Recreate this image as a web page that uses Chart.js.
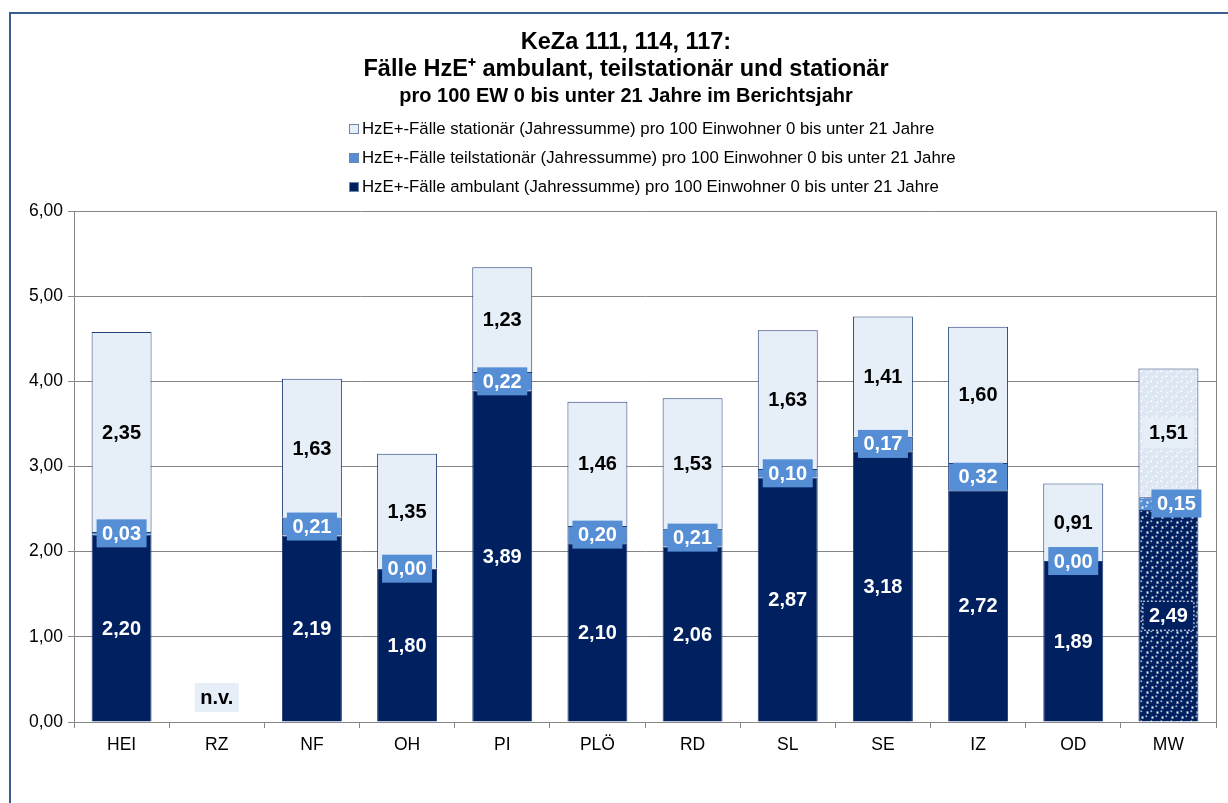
<!DOCTYPE html>
<html>
<head>
<meta charset="utf-8">
<style>
  body { margin: 0; background: #fff; }
</style>
</head>
<body>
<canvas id="myChart" width="1228" height="803"></canvas>
<script src="https://cdn.jsdelivr.net/npm/chart.js"></script>
<script>
const categories = ['HEI', 'RZ', 'NF', 'OH', 'PI', 'PLÖ', 'RD', 'SL', 'SE', 'IZ', 'OD', 'MW'];
const ambulant = [2.20, null, 2.19, 1.80, 3.89, 2.10, 2.06, 2.87, 3.18, 2.72, 1.89, 2.49];
const teilstationaer = [0.03, null, 0.21, 0.00, 0.22, 0.20, 0.21, 0.10, 0.17, 0.32, 0.00, 0.15];
const stationaer = [2.35, null, 1.63, 1.35, 1.23, 1.46, 1.53, 1.63, 1.41, 1.60, 0.91, 1.51];
const yTicks = [0, 1, 2, 3, 4, 5, 6];

const titleLines = [
    'KeZa 111, 114, 117:',
    'Fälle HzE⁺ ambulant, teilstationär und stationär',
    'pro 100 EW 0 bis unter 21 Jahre im Berichtsjahr'
];
const legendLabels = [
    'HzE+-Fälle ambulant (Jahressumme) pro 100 Einwohner 0 bis unter 21 Jahre',
    'HzE+-Fälle teilstationär (Jahressumme) pro 100 Einwohner 0 bis unter 21 Jahre',
    'HzE+-Fälle stationär (Jahressumme) pro 100 Einwohner 0 bis unter 21 Jahre'
];

const NAVY = '#002060';
const MID = '#558ED5';
const LIGHT = '#E6EEF8';
const EDGE = '#24407A';
const FONT = '"Liberation Sans", Arial, sans-serif';

// Kugel-Muster fuer den Mittelwert (MW)
function makePattern(bg, ball, shine) {
    const c = document.createElement('canvas');
    c.width = 10; c.height = 10;
    const g = c.getContext('2d');
    g.fillStyle = bg;
    g.fillRect(0, 0, 10, 10);
    const pts = [[2.5, 2.5], [7.5, 7.5], [-2.5, 7.5], [12.5, 7.5], [7.5, -2.5], [7.5, 12.5], [2.5, 12.5], [12.5, 2.5]];
    pts.forEach(([x, y]) => {
        g.fillStyle = ball;
        g.beginPath(); g.arc(x, y, 4.1, 0, Math.PI * 2); g.fill();
        g.fillStyle = shine;
        g.beginPath(); g.arc(x - 1.2, y - 1.2, 1, 0, Math.PI * 2); g.fill();
    });
    return g.createPattern(c, 'repeat');
}

const ctx0 = document.getElementById('myChart').getContext('2d');
const patNavy = makePattern('#ffffff', NAVY, '#9fb3d6');
const patMid = makePattern('#ffffff', MID, '#dbe6f5');
const patLight = makePattern('#f4f7fc', '#dde6f3', '#ffffff');

function colors(base, pat) {
    return categories.map(c => c === 'MW' ? pat : base);
}

function fmt(v) {
    return v.toFixed(2).replace('.', ',');
}

const decor = {
    id: 'decor',
    beforeDraw(chart) {
        const c = chart.ctx;
        c.save();
        c.fillStyle = '#fff';
        c.fillRect(0, 0, chart.width, chart.height);
        // Rahmen
        c.strokeStyle = '#3A5F8F';
        c.lineWidth = 2;
        c.beginPath();
        c.moveTo(10, chart.height);
        c.lineTo(10, 13);
        c.lineTo(chart.width, 13);
        c.stroke();
        // Titel
        c.fillStyle = '#000';
        c.textAlign = 'center';
        c.textBaseline = 'middle';
        c.font = 'bold 23.5px ' + FONT;
        c.fillText(titleLines[0], 626, 43);
        c.fillText(titleLines[1], 626, 70);
        c.font = 'bold 20px ' + FONT;
        c.fillText(titleLines[2], 626, 96);
        // Legende (umgekehrte Reihenfolge)
        const fills = [NAVY, MID, LIGHT];
        c.font = '16.8px ' + FONT;
        c.textAlign = 'left';
        [2, 1, 0].forEach((d, row) => {
            const y = 129 + row * 29;
            c.fillStyle = fills[d];
            c.fillRect(349, y - 5, 10, 10);
            c.strokeStyle = '#6f86a8';
            c.lineWidth = 1;
            c.strokeRect(349.5, y - 4.5, 9, 9);
            c.fillStyle = '#000';
            c.fillText(legendLabels[d], 362, y);
        });
        c.restore();
    },
    afterDatasetsDraw(chart) {
        const c = chart.ctx;
        const area = chart.chartArea;
        c.save();
        // rechte Begrenzung
        c.strokeStyle = '#868686';
        c.lineWidth = 1;
        c.beginPath();
        c.moveTo(Math.round(area.right) + 0.5, area.top);
        c.lineTo(Math.round(area.right) + 0.5, area.bottom);
        c.stroke();

        c.textAlign = 'center';
        c.textBaseline = 'middle';
        c.font = 'bold 20px ' + FONT;
        chart.data.datasets.forEach((ds, di) => {
            const meta = chart.getDatasetMeta(di);
            meta.data.forEach((el, i) => {
                const v = ds.data[i];
                if (v === null) return;
                const x = el.x;
                const y = (el.y + el.base) / 2;
                const isMW = categories[i] === 'MW';
                if (di === 1) {
                    const bx = isMW ? x + 8 : x;
                    c.fillStyle = MID;
                    c.fillRect(bx - 25, y - 14, 50, 28);
                    c.fillStyle = '#fff';
                    c.fillText(fmt(v), bx, y + 1);
                    return;
                }
                if (di === 0) {
                    if (isMW) {
                        c.fillStyle = NAVY;
                        c.fillRect(x - 26, y - 15, 52, 30);
                        c.setLineDash([2, 2]);
                        c.strokeStyle = '#fff';
                        c.strokeRect(x - 25.5, y - 14.5, 51, 29);
                        c.setLineDash([]);
                    }
                    c.fillStyle = '#fff';
                } else {
                    if (isMW) {
                        c.fillStyle = LIGHT;
                        c.fillRect(x - 26, y - 15, 52, 30);
                    }
                    c.fillStyle = '#000';
                }
                c.fillText(fmt(v), x, y + 1);
            });
        });

        // n.v. fuer fehlende Werte
        const xs = chart.scales.x;
        const ys = chart.scales.y;
        ambulant.forEach((v, i) => {
            if (v !== null) return;
            const x = xs.getPixelForValue(i);
            const y = ys.getPixelForValue(0) - 25;
            c.fillStyle = LIGHT;
            c.fillRect(x - 22, y - 14, 44, 29);
            c.fillStyle = '#000';
            c.fillText('n.v.', x, y + 1);
        });
        c.restore();
    }
};

new Chart(ctx0, {
    type: 'bar',
    data: {
        labels: categories,
        datasets: [{
            label: legendLabels[0],
            data: ambulant,
            backgroundColor: colors(NAVY, patNavy),
            borderColor: EDGE,
            borderWidth: 1
        }, {
            label: legendLabels[1],
            data: teilstationaer,
            backgroundColor: colors(MID, patMid),
            borderColor: EDGE,
            borderWidth: 1
        }, {
            label: legendLabels[2],
            data: stationaer,
            backgroundColor: colors(LIGHT, patLight),
            borderColor: EDGE,
            borderWidth: 1
        }]
    },
    options: {
        responsive: false,
        animation: false,
        barPercentage: 0.63,
        categoryPercentage: 1,
        layout: { padding: { top: 211, right: 12, left: 0, bottom: 0 } },
        plugins: {
            legend: { display: false },
            title: { display: false },
            tooltip: { enabled: false }
        },
        scales: {
            x: {
                stacked: true,
                grid: { drawOnChartArea: false, drawTicks: true, tickLength: 6, color: '#868686', offset: true },
                border: { color: '#868686' },
                ticks: { color: '#000', font: { size: 17.5, family: FONT }, padding: 7 },
                afterFit: s => { s.height = 81; }
            },
            y: {
                stacked: true,
                min: 0,
                max: 6,
                afterBuildTicks: s => { s.ticks = yTicks.map(v => ({ value: v })); },
                grid: { color: '#868686', tickLength: 6 },
                border: { color: '#868686' },
                ticks: {
                    color: '#000',
                    font: { size: 17.5, family: FONT },
                    padding: 5,
                    callback: v => fmt(v)
                },
                afterFit: s => { s.width = 74; }
            }
        }
    },
    plugins: [decor]
});
</script>
</body>
</html>
